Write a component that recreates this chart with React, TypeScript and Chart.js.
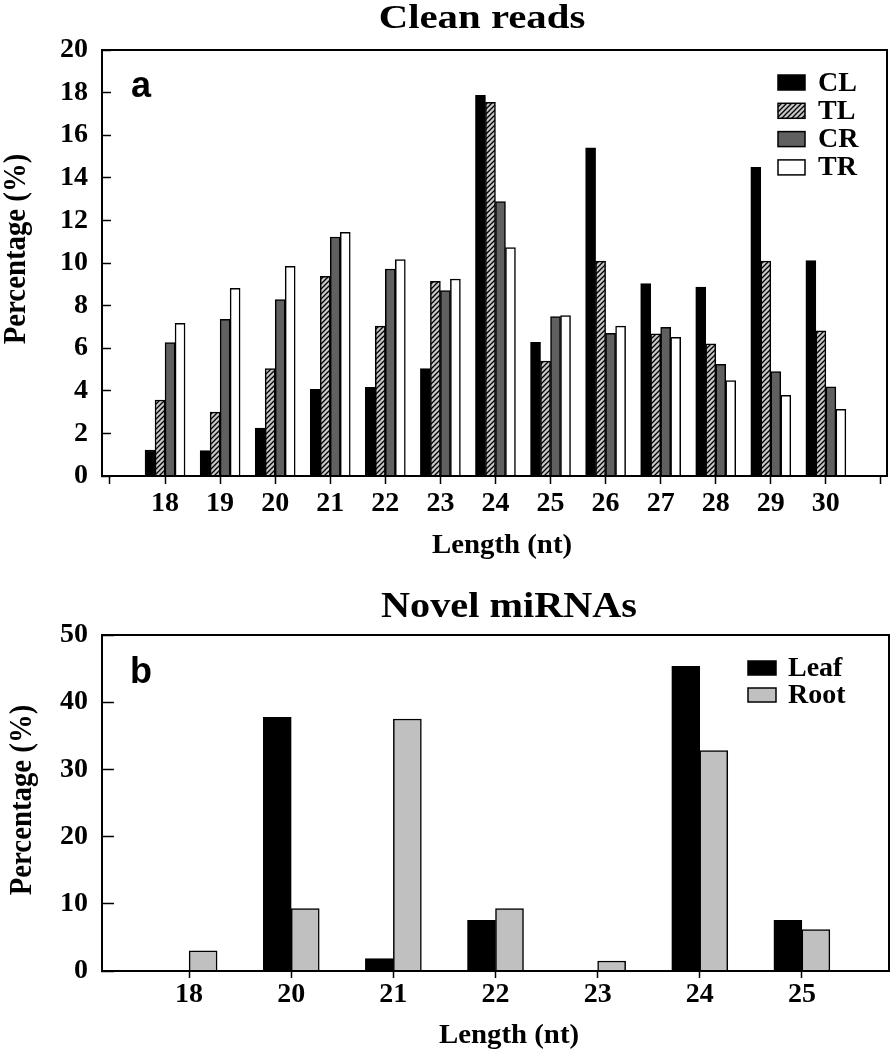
import React, { useEffect, useRef } from 'react';
import { Chart, registerables } from 'chart.js';

Chart.register(...registerables);

// ---------- Data ----------
const cleanLengths = [18, 19, 20, 21, 22, 23, 24, 25, 26, 27, 28, 29, 30];
const clValues = [1.22, 1.19, 2.25, 4.07, 4.16, 5.04, 17.87, 6.28, 15.41, 9.03, 8.87, 14.49, 10.11];
const tlValues = [3.57, 3.0, 5.04, 9.37, 7.04, 9.14, 17.54, 5.4, 10.09, 6.67, 6.2, 10.09, 6.81];
const crValues = [6.26, 7.36, 8.28, 11.22, 9.72, 8.7, 12.88, 7.48, 6.7, 6.98, 5.24, 4.9, 4.19];
const trValues = [7.17, 8.81, 9.84, 11.44, 10.16, 9.25, 10.72, 7.53, 7.04, 6.51, 4.48, 3.79, 3.13];
const cleanSeries = ['CL', 'TL', 'CR', 'TR'];

const novelLengths = ['18', '20', '21', '22', '23', '24', '25'];
const leafValues = [0, 37.75, 1.84, 7.54, 0, 45.34, 7.54];
const rootValues = [3.02, 9.28, 37.5, 9.28, 1.49, 32.79, 6.15];
const novelSeries = ['Leaf', 'Root'];

const cleanTitle = 'Clean reads';
const novelTitle = 'Novel miRNAs';
const xAxisTitle = 'Length (nt)';
const yAxisTitle = 'Percentage (%)';
const panelA = 'a';
const panelB = 'b';

// ---------- Styles ----------
const SERIF = "'Liberation Serif', 'Times New Roman', serif";
const SANS = "'Liberation Sans', Arial, sans-serif";
const tickFont = { family: SERIF, weight: 'bold' as const, size: 28, lineHeight: 1.2 };

function makeHatch(): CanvasPattern | string {
  const c = document.createElement('canvas');
  c.width = 5;
  c.height = 5;
  const g = c.getContext('2d');
  if (!g) return '#c8c8c8';
  g.fillStyle = '#c8c8c8';
  g.fillRect(0, 0, 5, 5);
  g.strokeStyle = '#000';
  g.lineWidth = 1.3;
  g.beginPath();
  g.moveTo(0, 5);
  g.lineTo(5, 0);
  g.moveTo(-1, 1);
  g.lineTo(1, -1);
  g.moveTo(4, 6);
  g.lineTo(6, 4);
  g.stroke();
  return g.createPattern(c, 'repeat') || '#c8c8c8';
}

type TextItem = { text: string; x: number; y: number; font: string; rotate?: number; sx?: number; align?: CanvasTextAlign };
type LegendCfg = { x: number; y: number; w: number; h: number; step: number; textX: number; textDy: number; font: string };

function makeDeco(texts: TextItem[], legend: LegendCfg) {
  return {
    id: 'deco',
    afterDraw(chart: any) {
      const ctx: CanvasRenderingContext2D = chart.ctx;
      const a = chart.chartArea;
      ctx.save();
      ctx.strokeStyle = '#000';
      ctx.lineWidth = 2;
      ctx.strokeRect(a.left, a.top, a.right - a.left, a.bottom - a.top);
      for (const t of texts) {
        ctx.save();
        ctx.font = t.font;
        ctx.fillStyle = '#000';
        ctx.textAlign = t.align || 'center';
        ctx.textBaseline = 'alphabetic';
        ctx.translate(t.x, t.y);
        if (t.rotate) ctx.rotate(t.rotate);
        if (t.sx) ctx.scale(t.sx, 1);
        ctx.fillText(t.text, 0, 0);
        ctx.restore();
      }
      chart.data.datasets.forEach((ds: any, i: number) => {
        const y = legend.y + i * legend.step;
        ctx.fillStyle = ds.backgroundColor;
        ctx.fillRect(legend.x, y, legend.w, legend.h);
        ctx.lineWidth = 1.5;
        ctx.strokeStyle = '#000';
        ctx.strokeRect(legend.x, y, legend.w, legend.h);
        ctx.fillStyle = '#000';
        ctx.font = legend.font;
        ctx.textAlign = 'left';
        ctx.textBaseline = 'alphabetic';
        ctx.fillText(ds.label, legend.textX, y + legend.textDy);
      });
      ctx.restore();
    },
  };
}

function xScaleBase(tl: number) {
  return {
    type: 'linear',
    offset: false,
    grid: { offset: false, drawOnChartArea: false, drawTicks: true, tickLength: tl, tickColor: '#000', tickWidth: 1.5 },
    border: { display: true, color: '#000', width: 2 },
  };
}

function cleanConfig(): any {
  const hatch = makeHatch();
  const fills = ['#000000', hatch, '#606060', '#ffffff'];
  const series = [clValues, tlValues, crValues, trValues];
  return {
    type: 'bar',
    data: {
      labels: cleanLengths,
      datasets: series.map((vals, i) => ({
        label: cleanSeries[i],
        data: vals,
        backgroundColor: fills[i],
        borderColor: '#000',
        borderWidth: 1.5,
        barThickness: 10,
      })),
    },
    options: {
      responsive: false,
      animation: false,
      events: [],
      layout: { padding: { top: 50, right: 3, left: 0, bottom: 0 } },
      plugins: { legend: { display: false }, title: { display: false }, tooltip: { enabled: false } },
      scales: {
        x: {
          ...xScaleBase(8),
          min: 16.855,
          max: 31.11,
          afterFit: (s: any) => { s.height = 99; },
          ticks: {
            stepSize: 1,
            includeBounds: false,
            autoSkip: false,
            maxRotation: 0,
            minRotation: 0,
            padding: 3,
            color: '#000',
            font: tickFont,
            callback: (v: number) => (cleanLengths.includes(v) ? String(v) : ''),
          },
        },
        y: {
          type: 'linear',
          min: 0,
          max: 20,
          afterFit: (s: any) => { s.width = 102; },
          ticks: { stepSize: 2, padding: 23, color: '#000', font: tickFont },
          grid: { drawOnChartArea: false, drawTicks: true, tickLength: -9, tickColor: '#000', tickWidth: 1.5 },
          border: { display: true, color: '#000', width: 2 },
        },
      },
    },
    plugins: [
      makeDeco(
        [
          { text: cleanTitle, x: 482, y: 28, font: `bold 34px ${SERIF}`, sx: 1.2 },
          { text: xAxisTitle, x: 502, y: 553, font: `bold 28px ${SERIF}`, sx: 1.03 },
          { text: yAxisTitle, x: 25, y: 249, font: `bold 32px ${SERIF}`, rotate: -Math.PI / 2, sx: 0.9 },
          { text: panelA, x: 131, y: 97, font: `bold 36px ${SANS}`, align: 'left' },
        ],
        { x: 778, y: 75, w: 27, h: 15, step: 28.3, textX: 818, textDy: 15.5, font: `bold 28px ${SERIF}` }
      ),
    ],
  };
}

function novelConfig(): any {
  const fills = ['#000000', '#c0c0c0'];
  const series = [leafValues, rootValues];
  return {
    type: 'bar',
    data: {
      datasets: series.map((vals, i) => ({
        label: novelSeries[i],
        data: vals.map((v, j) => ({ x: j, y: v })),
        backgroundColor: fills[i],
        borderColor: '#000',
        borderWidth: 1.5,
        barThickness: 28,
      })),
    },
    options: {
      responsive: false,
      animation: false,
      events: [],
      layout: { padding: { top: 60, right: 1, left: 0, bottom: 0 } },
      plugins: { legend: { display: false }, title: { display: false }, tooltip: { enabled: false } },
      scales: {
        x: {
          ...xScaleBase(7),
          min: -0.853,
          max: 6.853,
          afterFit: (s: any) => { s.height = 79; },
          ticks: {
            stepSize: 1,
            includeBounds: false,
            autoSkip: false,
            maxRotation: 0,
            minRotation: 0,
            padding: 0,
            color: '#000',
            font: tickFont,
            callback: (v: number) => novelLengths[v] ?? '',
          },
        },
        y: {
          type: 'linear',
          min: 0,
          max: 50,
          afterFit: (s: any) => { s.width = 102; },
          ticks: { stepSize: 10, padding: 26, color: '#000', font: tickFont },
          grid: { drawOnChartArea: false, drawTicks: true, tickLength: -12, tickColor: '#000', tickWidth: 1.5 },
          border: { display: true, color: '#000', width: 2 },
        },
      },
    },
    plugins: [
      makeDeco(
        [
          { text: novelTitle, x: 509, y: 42, font: `bold 35px ${SERIF}`, sx: 1.15 },
          { text: xAxisTitle, x: 509, y: 468, font: `bold 28px ${SERIF}`, sx: 1.03 },
          { text: yAxisTitle, x: 31, y: 225, font: `bold 32px ${SERIF}`, rotate: -Math.PI / 2, sx: 0.9 },
          { text: panelB, x: 130, y: 108, font: `bold 36px ${SANS}`, align: 'left' },
        ],
        { x: 748, y: 86, w: 28, h: 14, step: 27, textX: 788, textDy: 14.5, font: `bold 28px ${SERIF}` }
      ),
    ],
  };
}

function ChartCanvas({ make, width, height }: { make: () => any; width: number; height: number }) {
  const ref = useRef<HTMLCanvasElement | null>(null);
  useEffect(() => {
    if (!ref.current) return;
    const chart = new Chart(ref.current, make());
    return () => chart.destroy();
  }, [make]);
  return <canvas ref={ref} width={width} height={height} style={{ display: 'block', width, height }} />;
}

export default function App() {
  return (
    <div style={{ position: 'absolute', left: 0, top: 0, width: 890, height: 1050, background: '#fff' }}>
      <ChartCanvas make={cleanConfig} width={890} height={575} />
      <ChartCanvas make={novelConfig} width={890} height={475} />
    </div>
  );
}
